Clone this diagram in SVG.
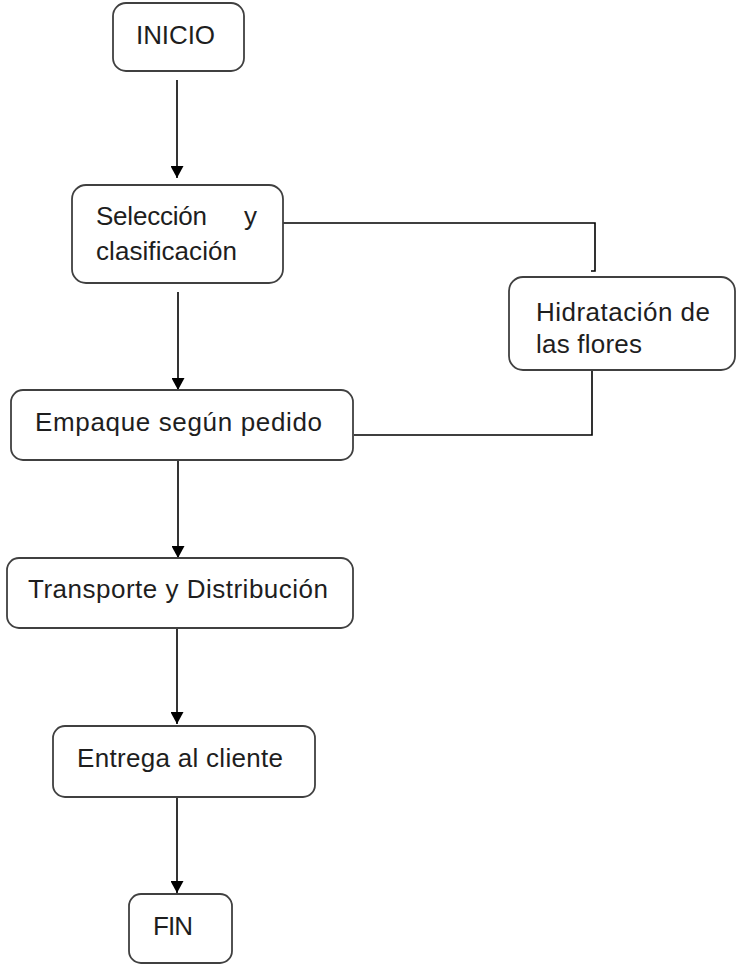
<svg xmlns="http://www.w3.org/2000/svg" width="736" height="965" viewBox="0 0 736 965">
<style>
.box{fill:#fff;stroke:#404040;stroke-width:1.8}
.t{font-family:"Liberation Sans",Arial,sans-serif;font-size:26px;fill:#1e1e1e}
.ln{fill:none;stroke:#000;stroke-width:1.6}
</style>
<defs>
<marker id="ah" viewBox="0 0 12 13" refX="12" refY="6.5" markerWidth="12" markerHeight="13" markerUnits="userSpaceOnUse" orient="auto">
<path d="M0,0 L12,6.5 L0,13 Z" fill="#000"/>
</marker>
</defs>
<rect width="736" height="965" fill="#fff"/>
<g id="connectors">
<line class="ln" x1="177" y1="80" x2="177" y2="178" marker-end="url(#ah)"/>
<line class="ln" x1="178" y1="292" x2="178" y2="390" marker-end="url(#ah)"/>
<line class="ln" x1="178" y1="460" x2="178" y2="558" marker-end="url(#ah)"/>
<line class="ln" x1="177" y1="628" x2="177" y2="724" marker-end="url(#ah)"/>
<line class="ln" x1="177" y1="797" x2="177" y2="893" marker-end="url(#ah)"/>
<path class="ln" d="M283 223 H595 V271 H591"/>
<path class="ln" d="M592 370 V435 H354"/>
</g>
<g id="inicio">
<rect class="box" x="113" y="3" width="131" height="68" rx="13"/>
<text class="t" x="136" y="44" textLength="79">INICIO</text>
</g>
<g id="seleccion">
<rect class="box" x="72" y="185" width="211" height="98" rx="14"/>
<text class="t" x="96" y="225" textLength="111">Selección</text>
<text class="t" x="244" y="225">y</text>
<text class="t" x="96" y="260" textLength="141">clasificación</text>
</g>
<g id="hidratacion">
<rect class="box" x="509" y="277" width="226" height="93" rx="14"/>
<text class="t" x="536" y="321" textLength="174">Hidratación de</text>
<text class="t" x="536" y="353" textLength="106">las flores</text>
</g>
<g id="empaque">
<rect class="box" x="11" y="390" width="342" height="70" rx="12"/>
<text class="t" x="35" y="431" textLength="287">Empaque según pedido</text>
</g>
<g id="transporte">
<rect class="box" x="7" y="558" width="346" height="70" rx="12"/>
<text class="t" x="28" y="598" textLength="300">Transporte y Distribución</text>
</g>
<g id="entrega">
<rect class="box" x="53" y="726" width="262" height="71" rx="12"/>
<text class="t" x="77" y="767" textLength="206">Entrega al cliente</text>
</g>
<g id="fin">
<rect class="box" x="129" y="894" width="103" height="69" rx="12"/>
<text class="t" x="153" y="935" textLength="40">FIN</text>
</g>
</svg>
